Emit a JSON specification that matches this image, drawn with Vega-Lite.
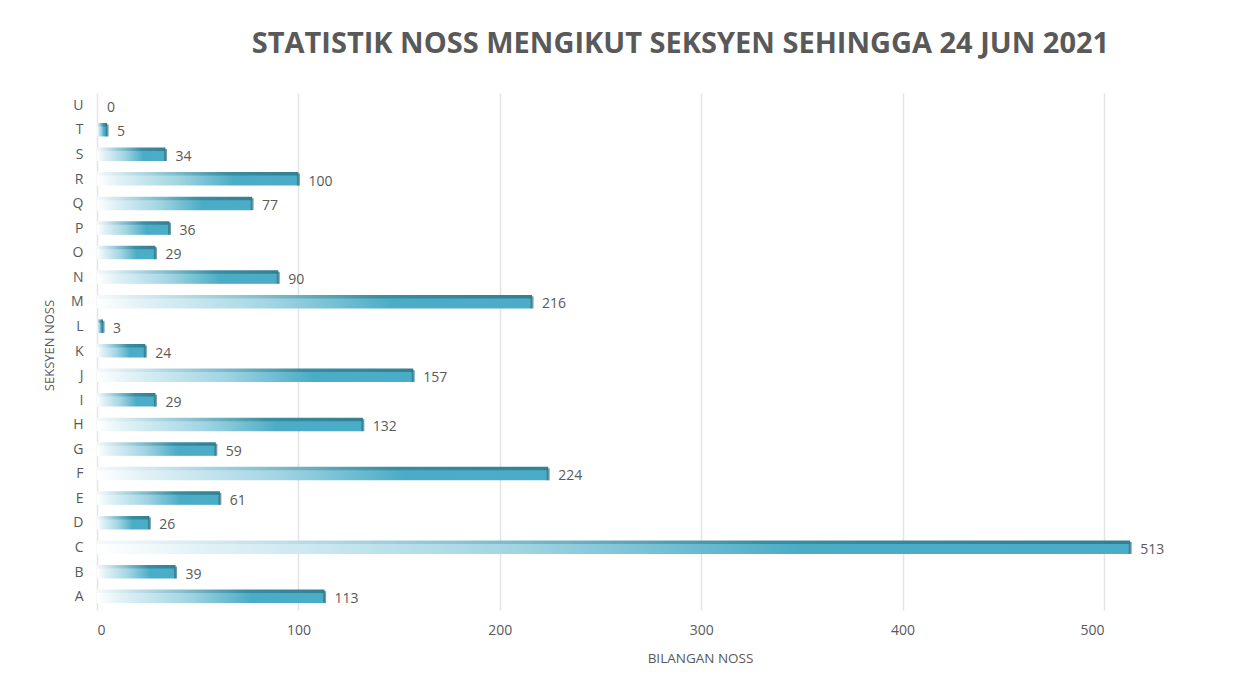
{
  "$schema": "https://vega.github.io/schema/vega-lite/v6.json",
  "width": 1007,
  "height": 517,
  "autosize": {"type": "none"},
  "padding": {"left": 97, "top": 93, "right": 133, "bottom": 76},
  "background": "#ffffff",
  "title": {
    "text": "STATISTIK NOSS MENGIKUT SEKSYEN SEHINGGA 24 JUN 2021",
    "font": "Open Sans",
    "fontSize": 29,
    "fontWeight": "bold",
    "color": "#595959",
    "anchor": "middle",
    "dx": 80,
    "offset": 34
  },
  "data": {
    "values": [
      {"seksyen": "A", "bilangan": 113},
      {"seksyen": "B", "bilangan": 39},
      {"seksyen": "C", "bilangan": 513},
      {"seksyen": "D", "bilangan": 26},
      {"seksyen": "E", "bilangan": 61},
      {"seksyen": "F", "bilangan": 224},
      {"seksyen": "G", "bilangan": 59},
      {"seksyen": "H", "bilangan": 132},
      {"seksyen": "I", "bilangan": 29},
      {"seksyen": "J", "bilangan": 157},
      {"seksyen": "K", "bilangan": 24},
      {"seksyen": "L", "bilangan": 3},
      {"seksyen": "M", "bilangan": 216},
      {"seksyen": "N", "bilangan": 90},
      {"seksyen": "O", "bilangan": 29},
      {"seksyen": "P", "bilangan": 36},
      {"seksyen": "Q", "bilangan": 77},
      {"seksyen": "R", "bilangan": 100},
      {"seksyen": "S", "bilangan": 34},
      {"seksyen": "T", "bilangan": 5},
      {"seksyen": "U", "bilangan": 0}
    ]
  },
  "encoding": {
    "y": {
      "field": "seksyen",
      "type": "nominal",
      "sort": "descending",
      "scale": {"paddingInner": 0.45, "paddingOuter": 0.25},
      "axis": {
        "title": "SEKSYEN NOSS",
        "titleFont": "Open Sans",
        "titleFontSize": 13,
        "titleFontWeight": "normal",
        "titleColor": "#595959",
        "titlePadding": 14,
        "titleY": 252,
        "labelFont": "Open Sans",
        "labelFontSize": 14,
        "labelColor": "#595959",
        "labelPadding": 14,
        "domain": false,
        "ticks": false,
        "grid": false
      }
    },
    "x": {
      "field": "bilangan",
      "type": "quantitative",
      "scale": {"domain": [0, 500], "nice": false},
      "axis": {
        "title": "BILANGAN NOSS",
        "titleFont": "Open Sans",
        "titleFontSize": 13.5,
        "titleFontWeight": "normal",
        "titleColor": "#595959",
        "titlePadding": 14,
        "titleX": 603,
        "labelFont": "Open Sans",
        "labelFontSize": 14,
        "labelColor": "#595959",
        "labelPadding": 13,
        "values": [0, 100, 200, 300, 400, 500],
        "domain": false,
        "ticks": false,
        "grid": true,
        "gridColor": "#e4e4e4",
        "gridWidth": 1.5
      }
    }
  },
  "layer": [
    {
      "mark": {
        "type": "bar",
        "clip": false,
        "height": 13,
        "yOffset": -1,
        "color": {
          "x1": 0, "y1": 0, "x2": 1, "y2": 0,
          "gradient": "linear",
          "stops": [
            {"offset": 0, "color": "#f4fafc"},
            {"offset": 0.35, "color": "#8cc3d2"},
            {"offset": 0.65, "color": "#3a8da2"},
            {"offset": 1, "color": "#357f92"}
          ]
        }
      }
    },
    {
      "mark": {
        "type": "bar",
        "clip": false,
        "height": 10,
        "yOffset": 1,
        "color": {
          "x1": 0, "y1": 0, "x2": 1, "y2": 0,
          "gradient": "linear",
          "stops": [
            {"offset": 0, "color": "#ffffff"},
            {"offset": 0.1, "color": "#e2f2f7"},
            {"offset": 0.4, "color": "#a2d5e3"},
            {"offset": 0.68, "color": "#4bacc6"},
            {"offset": 1, "color": "#4aadc7"}
          ]
        }
      }
    },
    {
      "mark": {
        "type": "tick",
        "orient": "vertical",
        "clip": false,
        "size": 12,
        "thickness": 3,
        "color": "#2f7487"
      },
      "transform": [{"filter": "datum.bilangan > 0"}]
    },
    {
      "mark": {
        "type": "text",
        "clip": false,
        "align": "left",
        "baseline": "middle",
        "dx": 10,
        "dy": 2,
        "font": "Open Sans",
        "fontSize": 14,
        "color": "#595959"
      },
      "encoding": {
        "text": {"field": "bilangan", "type": "quantitative"}
      }
    }
  ],
  "config": {
    "view": {"stroke": null}
  }
}
